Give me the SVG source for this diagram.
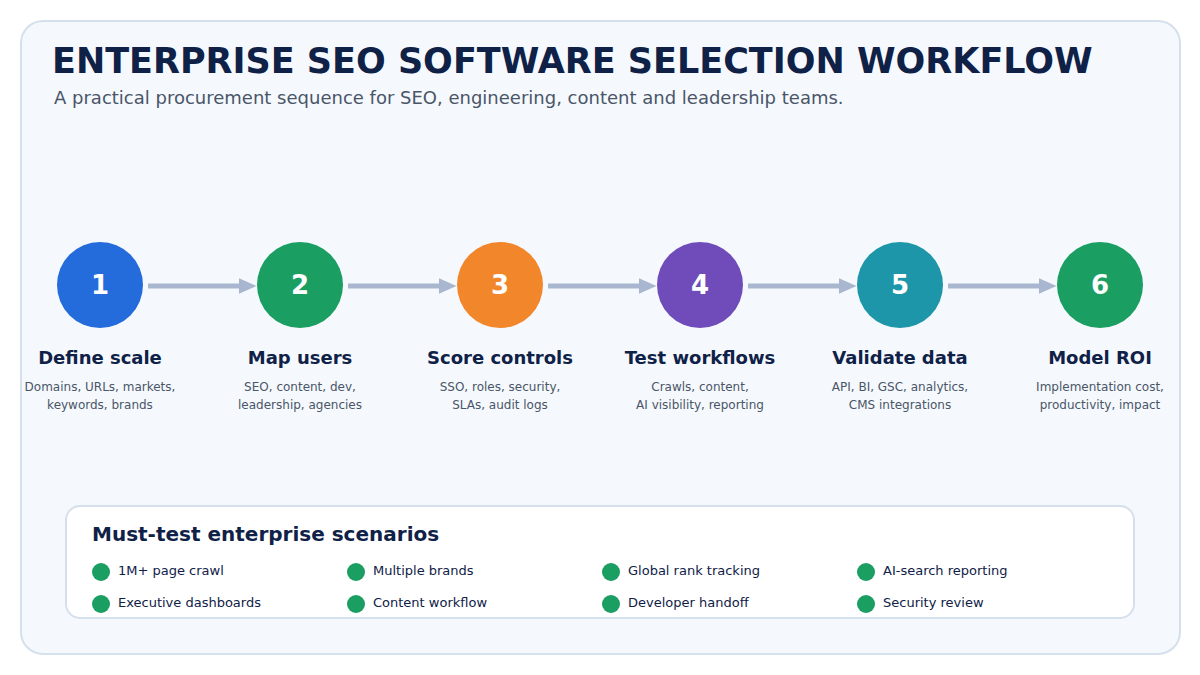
<svg xmlns="http://www.w3.org/2000/svg" width="1200" height="675" viewBox="0 0 1200 675">
<style>
text{font-family:"DejaVu Sans",sans-serif}
.num{fill:#fff;font-size:26px;font-weight:bold;text-anchor:middle}
.lab{fill:#0f2147;font-size:18px;font-weight:bold;text-anchor:middle}
.desc{fill:#4a5568;font-size:12px;text-anchor:middle}
.it{fill:#0f2147;font-size:13px}
.dot{fill:#1a9e62}
.con{stroke:#a8b6cf;stroke-width:5;fill:none;marker-end:url(#ah)}
</style>
<defs><marker id="ah" markerWidth="4" markerHeight="4" refX="0.5" refY="1.6" orient="auto" markerUnits="strokeWidth"><path d="M0,0 L3.6,1.6 L0,3.2 Z" fill="#a8b6cf"/></marker></defs>
<rect width="1200" height="675" fill="#fff"/>
<rect x="21" y="21" width="1159" height="633" rx="22" fill="#f5f9fd" stroke="#d5e0ec" stroke-width="2"/>
<text x="52" y="73" font-size="35" font-weight="bold" fill="#0f2147">ENTERPRISE SEO SOFTWARE SELECTION WORKFLOW</text>
<text x="54" y="104" font-size="18" fill="#4a5568">A practical procurement sequence for SEO, engineering, content and leadership teams.</text>
<g id="connectors">
<line class="con" x1="148" y1="286" x2="241" y2="286"/>
<line class="con" x1="348" y1="286" x2="441" y2="286"/>
<line class="con" x1="548" y1="286" x2="641" y2="286"/>
<line class="con" x1="748" y1="286" x2="841" y2="286"/>
<line class="con" x1="948" y1="286" x2="1041" y2="286"/>
</g>
<g id="n1"><circle cx="100" cy="285" r="43" fill="#246bdb"/><text class="num" x="100" y="294">1</text><text class="lab" x="100" y="364">Define scale</text><text class="desc" x="100" y="391">Domains, URLs, markets,</text><text class="desc" x="100" y="409">keywords, brands</text></g>
<g id="n2"><circle cx="300" cy="285" r="43" fill="#1a9e62"/><text class="num" x="300" y="294">2</text><text class="lab" x="300" y="364">Map users</text><text class="desc" x="300" y="391">SEO, content, dev,</text><text class="desc" x="300" y="409">leadership, agencies</text></g>
<g id="n3"><circle cx="500" cy="285" r="43" fill="#f2862a"/><text class="num" x="500" y="294">3</text><text class="lab" x="500" y="364">Score controls</text><text class="desc" x="500" y="391">SSO, roles, security,</text><text class="desc" x="500" y="409">SLAs, audit logs</text></g>
<g id="n4"><circle cx="700" cy="285" r="43" fill="#6f4cba"/><text class="num" x="700" y="294">4</text><text class="lab" x="700" y="364">Test workflows</text><text class="desc" x="700" y="391">Crawls, content,</text><text class="desc" x="700" y="409">AI visibility, reporting</text></g>
<g id="n5"><circle cx="900" cy="285" r="43" fill="#1c96a8"/><text class="num" x="900" y="294">5</text><text class="lab" x="900" y="364">Validate data</text><text class="desc" x="900" y="391">API, BI, GSC, analytics,</text><text class="desc" x="900" y="409">CMS integrations</text></g>
<g id="n6"><circle cx="1100" cy="285" r="43" fill="#1a9e62"/><text class="num" x="1100" y="294">6</text><text class="lab" x="1100" y="364">Model ROI</text><text class="desc" x="1100" y="391">Implementation cost,</text><text class="desc" x="1100" y="409">productivity, impact</text></g>
<g id="scenarios">
<rect x="66" y="506" width="1068" height="112" rx="14" fill="#fff" stroke="#d5e0ec" stroke-width="2"/>
<text x="92" y="541" font-size="20" font-weight="bold" fill="#0f2147">Must-test enterprise scenarios</text>
<circle class="dot" cx="101" cy="572" r="9"/><text class="it" x="118" y="575">1M+ page crawl</text>
<circle class="dot" cx="356" cy="572" r="9"/><text class="it" x="373" y="575">Multiple brands</text>
<circle class="dot" cx="611" cy="572" r="9"/><text class="it" x="628" y="575">Global rank tracking</text>
<circle class="dot" cx="866" cy="572" r="9"/><text class="it" x="883" y="575">AI-search reporting</text>
<circle class="dot" cx="101" cy="604" r="9"/><text class="it" x="118" y="607">Executive dashboards</text>
<circle class="dot" cx="356" cy="604" r="9"/><text class="it" x="373" y="607">Content workflow</text>
<circle class="dot" cx="611" cy="604" r="9"/><text class="it" x="628" y="607">Developer handoff</text>
<circle class="dot" cx="866" cy="604" r="9"/><text class="it" x="883" y="607">Security review</text>
</g>
</svg>
